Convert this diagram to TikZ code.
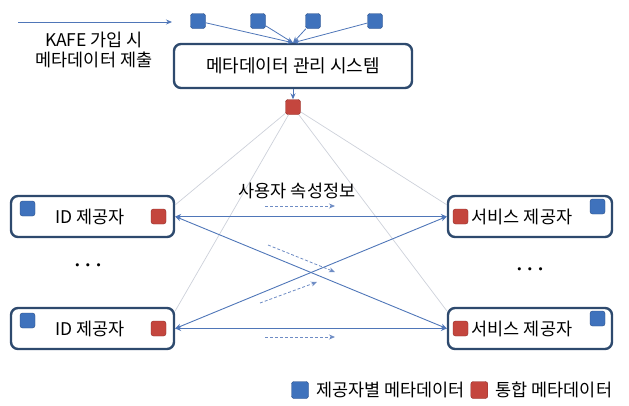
\documentclass[tikz,border=0pt]{standalone}
\usepackage{fontspec}
\setmainfont{Noto Sans CJK KR}
\usepackage{xcolor}
\usetikzlibrary{arrows.meta,positioning,calc}
\definecolor{boxline}{HTML}{2E4A6E}
\definecolor{ownblue}{HTML}{3F72BC}
\definecolor{ownblueline}{HTML}{2A4E86}
\definecolor{aggred}{HTML}{C4463E}
\definecolor{aggredline}{HTML}{8E2E28}
\definecolor{linkblue}{HTML}{4F76B8}
\definecolor{hintblue}{HTML}{6E8CC4}
\definecolor{faintline}{HTML}{CDD1DA}

\begin{document}
\begin{tikzpicture}[x=1pt, y=-1pt, font=\fontsize{17.5}{20}\selectfont,
    sysbox/.style={draw=boxline, line width=2.4pt, rounded corners=7pt, fill=white},
    ownsq/.style={draw=ownblueline, fill=ownblue, rounded corners=2.5pt, minimum size=15pt, inner sep=0pt},
    aggsq/.style={draw=aggredline, fill=aggred, rounded corners=2.5pt, minimum size=15pt, inner sep=0pt},
    feed/.style={linkblue, line width=0.8pt, -{Stealth[length=6pt,width=5pt]}},
    link/.style={linkblue, line width=0.9pt, {Stealth[length=6pt,width=5pt]}-{Stealth[length=6pt,width=5pt]}},
    hint/.style={hintblue, line width=0.8pt, dash pattern=on 3pt off 2pt, -{Stealth[length=6pt,width=5pt]}},
    faint/.style={faintline, line width=0.7pt},
    more/.style={font=\fontsize{21}{21}\selectfont\boldmath}]
    \useasboundingbox (0,0) rectangle (629,405);

    \node (mgmt) [sysbox, minimum width=238pt, minimum height=44pt, font=\fontsize{18}{20}\selectfont] at (293,66) {메타데이터 관리 시스템};

    \node (src1) [ownsq] at (198,21) {};
    \node (src2) [ownsq] at (258,21) {};
    \node (src3) [ownsq] at (313,21) {};
    \node (src4) [ownsq] at (375,21) {};
    \draw[feed] (src1) -- (mgmt.north);
    \draw[feed] (src2) -- (mgmt.north);
    \draw[feed] (src3) -- (mgmt.north);
    \draw[feed] (src4) -- (mgmt.north);

    \coordinate (kafein) at (18,22);
    \coordinate (kafeout) at (172,22);
    \draw[feed] (kafein) -- (kafeout);
    \node (kafe) [align=center] at (94,50) {KAFE 가입 시\\메타데이터 제출};

    \node (agg) [aggsq] at (293,107) {};
    \draw[feed] (mgmt.south) -- (agg.north);

    \node (idp1) [sysbox, minimum width=163pt, minimum height=41pt] at (92.5,216.5) {};
    \node (idp2) [sysbox, minimum width=163pt, minimum height=41pt] at (92.5,328.5) {};
    \node (sp1) [sysbox, minimum width=164pt, minimum height=41pt] at (530,216.5) {};
    \node (sp2) [sysbox, minimum width=164pt, minimum height=41pt] at (530,328.5) {};

    \draw[faint] (agg) -- (idp1.8);
    \draw[faint] (agg) -- (idp2.12);
    \draw[faint] (agg) -- (sp1.172);
    \draw[faint] (agg) -- (sp2.168);

    \node (idp1own) [ownsq, below right=6pt and 10pt of idp1.north west] {};
    \node (idp1agg) [aggsq, left=9pt of idp1.east] {};
    \node (idp1name) at (90,217) {ID 제공자};
    \node (idp2own) [ownsq, below right=6pt and 10pt of idp2.north west] {};
    \node (idp2agg) [aggsq, left=9pt of idp2.east] {};
    \node (idp2name) at (90,329) {ID 제공자};

    \node (sp1agg) [aggsq, right=6pt of sp1.west] {};
    \node (sp1own) [ownsq, below left=4pt and 8pt of sp1.north east] {};
    \node (sp1name) [right=0pt of sp1agg] {서비스 제공자};
    \node (sp2agg) [aggsq, right=6pt of sp2.west] {};
    \node (sp2own) [ownsq, below left=4pt and 8pt of sp2.north east] {};
    \node (sp2name) [right=0pt of sp2agg] {서비스 제공자};

    \node (idpdots) [more] at (88,266) {$\cdots$};
    \node (spdots) [more] at (530,270) {$\cdots$};

    \draw[link] (idp1.east) -- (sp1.west);
    \draw[link] (idp1.east) -- (sp2.west);
    \draw[link] (idp2.east) -- (sp1.west);
    \draw[link] (idp2.east) -- (sp2.west);

    \node (attr) at (297,191) {사용자 속성정보};
    \coordinate (hint1a) at (265,206);
    \coordinate (hint1b) at (335,206);
    \coordinate (hint2a) at (268,245);
    \coordinate (hint2b) at (335,272);
    \coordinate (hint3a) at (260,303);
    \coordinate (hint3b) at (317,282);
    \coordinate (hint4a) at (265,337);
    \coordinate (hint4b) at (335,337);
    \draw[hint] (hint1a) -- (hint1b);
    \draw[hint] (hint2a) -- (hint2b);
    \draw[hint] (hint3a) -- (hint3b);
    \draw[hint] (hint4a) -- (hint4b);

    \node (legown) [ownsq, minimum size=17pt] at (300,390) {};
    \node (legowntxt) [right=4pt of legown] {제공자별 메타데이터};
    \node (legagg) [aggsq, minimum size=17pt, right=2pt of legowntxt] {};
    \node (legaggtxt) [right=4pt of legagg] {통합 메타데이터};
\end{tikzpicture}
\end{document}
